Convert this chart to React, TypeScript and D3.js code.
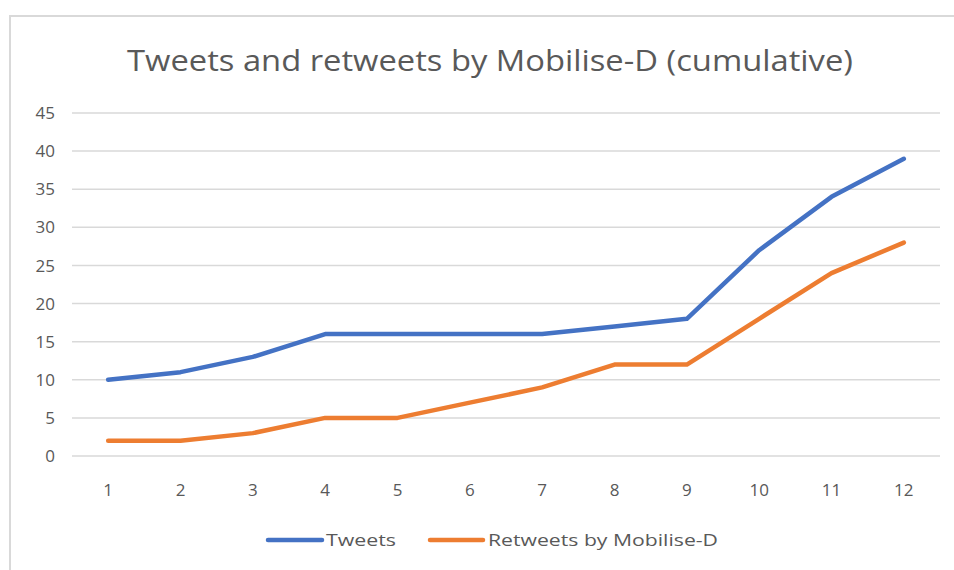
import React from "react";
import * as d3 from "d3";

const categories = ["1", "2", "3", "4", "5", "6", "7", "8", "9", "10", "11", "12"];
const tweets = [10, 11, 13, 16, 16, 16, 16, 17, 18, 27, 34, 39];
const retweets = [2, 2, 3, 5, 5, 7, 9, 12, 12, 18, 24, 28];
const yTicks = [0, 5, 10, 15, 20, 25, 30, 35, 40, 45];
const seriesNames = ["Tweets", "Retweets by Mobilise-D"];
const seriesColors = ["#4472C4", "#ED7D31"];
const title = "Tweets and retweets by Mobilise-D (cumulative)";

const W = 954;
const H = 570;
const FONT = "'Open Sans', 'Noto Sans', sans-serif";

export default function App() {
  const left = 72;
  const right = 940;
  const top = 113;
  const bottom = 456;
  const x = d3.scaleBand().domain(categories).range([left, right]);
  const y = d3.scaleLinear().domain([0, 45]).range([bottom, top]);
  const line = d3
    .line<number>()
    .x((_, i) => (x(categories[i]) as number) + x.bandwidth() / 2)
    .y((d) => y(d));
  const series = [tweets, retweets];

  return (
    <svg
      width={W}
      height={H}
      style={{ position: "absolute", left: 0, top: 0, background: "#fff" }}
    >
      <rect x={0} y={0} width={W} height={H} fill="#fff" />
      <rect x={10} y={16} width={W + 20} height={H + 20} fill="#fff" stroke="#d9d9d9" strokeWidth={2} />
      <text
        x={127}
        y={71}
        textLength={726}
        lengthAdjust="spacingAndGlyphs"
        fontFamily={FONT}
        fontSize={30}
        fill="#595959"
      >
        {title}
      </text>
      {yTicks.map((t) => (
        <g key={t}>
          <line x1={left} x2={right} y1={y(t)} y2={y(t)} stroke="#d9d9d9" strokeWidth={1.5} />
          <text
            x={55}
            y={y(t)}
            dy="0.36em"
            textAnchor="end"
            fontFamily={FONT}
            fontSize={17}
            fill="#595959"
          >
            {t}
          </text>
        </g>
      ))}
      {categories.map((c) => (
        <text
          key={c}
          x={(x(c) as number) + x.bandwidth() / 2}
          y={496}
          textAnchor="middle"
          fontFamily={FONT}
          fontSize={17}
          fill="#595959"
        >
          {c}
        </text>
      ))}
      {series.map((s, i) => (
        <path
          key={i}
          d={line(s) as string}
          fill="none"
          stroke={seriesColors[i]}
          strokeWidth={4.5}
          strokeLinejoin="round"
          strokeLinecap="round"
        />
      ))}
      <g>
        <line x1={268} x2={322} y1={540} y2={540} stroke={seriesColors[0]} strokeWidth={4.5} strokeLinecap="round" />
        <text x={326} y={546} textLength={70} lengthAdjust="spacingAndGlyphs" fontFamily={FONT} fontSize={17} fill="#595959">
          {seriesNames[0]}
        </text>
        <line x1={430} x2={483} y1={540} y2={540} stroke={seriesColors[1]} strokeWidth={4.5} strokeLinecap="round" />
        <text x={488} y={546} textLength={230} lengthAdjust="spacingAndGlyphs" fontFamily={FONT} fontSize={17} fill="#595959">
          {seriesNames[1]}
        </text>
      </g>
    </svg>
  );
}
